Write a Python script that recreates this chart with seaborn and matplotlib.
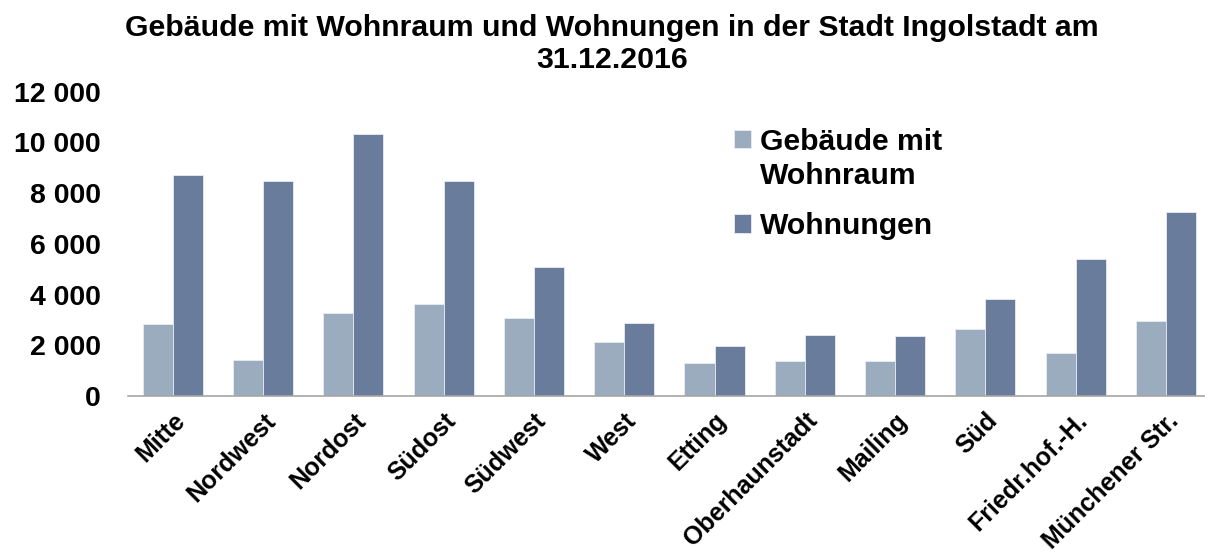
import matplotlib
matplotlib.use("Agg")
import matplotlib.pyplot as plt
import seaborn as sns
import pandas as pd
from matplotlib.ticker import FuncFormatter
from matplotlib.legend_handler import HandlerPatch
from matplotlib.patches import Rectangle

districts = ["Mitte", "Nordwest", "Nordost", "Südost", "Südwest", "West", "Etting",
             "Oberhaunstadt", "Mailing", "Süd", "Friedr.hof.-H.", "Münchener Str."]
gebaeude = [2820, 1420, 3270, 3630, 3070, 2110, 1310, 1360, 1380, 2650, 1690, 2940]
wohnungen = [8700, 8500, 10320, 8490, 5100, 2860, 1970, 2400, 2370, 3810, 5390, 7240]
series_names = ["Gebäude mit\nWohnraum", "Wohnungen"]
colors = ["#9aacbe", "#697c9c"]

df = pd.DataFrame({
    "Stadtbezirk": districts * 2,
    "Wert": gebaeude + wohnungen,
    "Serie": [series_names[0]] * len(districts) + [series_names[1]] * len(districts),
})

sns.set_theme(style="white")
plt.rcParams['font.family'] = ['Liberation Sans', 'DejaVu Sans']
plt.rcParams['text.color'] = 'black'
plt.rcParams['xtick.color'] = 'black'
plt.rcParams['ytick.color'] = 'black'

fig = plt.figure(figsize=(12.05, 5.53), dpi=100)
ax = fig.add_axes([0.106, 0.284, 0.899, 0.550])

sns.barplot(data=df, x="Stadtbezirk", y="Wert", hue="Serie", palette=colors,
            width=0.665, ax=ax, edgecolor="#e8ecf2", linewidth=0.6, saturation=1)

ax.set_ylim(0, 12000)
ax.set_yticks(range(0, 12001, 2000))
ax.yaxis.set_major_formatter(FuncFormatter(lambda v, p: f"{int(v):,}".replace(",", " ")))
ax.set_xlabel("")
ax.set_ylabel("")
ax.tick_params(axis="y", labelsize=20.5, length=0, pad=19.5, labelcolor="black")
ax.tick_params(axis="x", labelsize=18, length=0, pad=9, labelcolor="black")
for lab in ax.get_yticklabels():
    lab.set_fontweight("bold")
for lab in ax.get_xticklabels():
    lab.set_fontweight("bold")
    lab.set_rotation(45)
    lab.set_ha("right")
    lab.set_rotation_mode("anchor")

for s in ["top", "right", "left"]:
    ax.spines[s].set_visible(False)
ax.spines["bottom"].set_color("#a6a6a6")
ax.spines["bottom"].set_linewidth(1.2)


def make_patch(shift):
    def f(legend, orig_handle, xdescent, ydescent, width, height, fontsize):
        return Rectangle((-xdescent, -ydescent + shift * fontsize), width, height)
    return f


handles, labels = ax.get_legend_handles_labels()
hmap = {handles[0]: HandlerPatch(patch_func=make_patch(0.66)),
        handles[1]: HandlerPatch(patch_func=make_patch(0.0))}
leg = ax.legend(handles, labels, loc="upper left", bbox_to_anchor=(0.535, 0.97),
                frameon=False, prop={"size": 21.7, "weight": "bold"},
                handlelength=0.56, handleheight=0.56, handletextpad=0.3,
                labelspacing=0.75, handler_map=hmap)
for t in leg.get_texts():
    t.set_color("black")
    t.set_linespacing(1.25)

fig.suptitle("Gebäude mit Wohnraum und Wohnungen in der Stadt Ingolstadt am\n31.12.2016",
             x=0.508, y=0.975, fontsize=21.8, fontweight="bold", linespacing=1.2,
             color="black")

fig.savefig("out.png", dpi=100)
